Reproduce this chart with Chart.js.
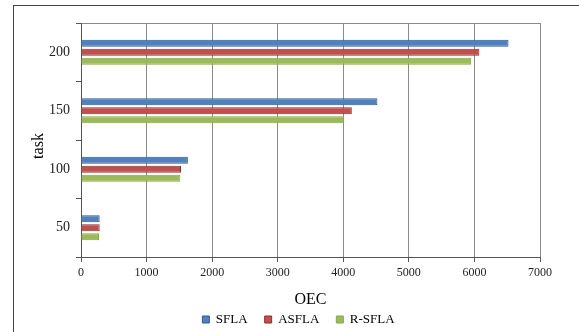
<!DOCTYPE html>
<html>
    <head>
        <title>OEC por task</title>
        <meta name="viewport" content="width=device-width, initial-scale=1.0">
        <style>
            body { margin: 0; background: #fff; }
            #wrap { position: relative; width: 579px; height: 332px; }
            #frame { position: absolute; left: 13px; top: 5px; right: -2px; bottom: -2px; border-left: 1px solid #444; border-top: 1px solid #444; }
        </style>
    </head>
    <body>
        <div id="wrap">
            <div id="frame"></div>
            <canvas id="myChart" width="579" height="332"></canvas>
        </div>

        <script src="https://cdn.jsdelivr.net/npm/chart.js@4/dist/chart.umd.min.js"></script>
        <script>
            // categories top to bottom
            const tasks = ['200', '150', '100', '50'];
            const sfla  = [6520, 4520, 1630, 285];
            const asfla = [6075, 4130, 1525, 285];
            const rsfla = [5950, 4015, 1515, 275];
            const xTicks = [0, 1000, 2000, 3000, 4000, 5000, 6000, 7000];

            const serif = "'Liberation Serif', 'Times New Roman', serif";

            // push the legend box right so its centre sits under the plot
            const legendShift = {
                id: 'legendShift',
                afterLayout(c) { if (c.legend) c.legend.left += 57; }
            };

            let ctx = document.getElementById('myChart').getContext('2d');
            let chart = new Chart(ctx, {
                type: 'bar',
                data: {
                    labels: tasks,
                    datasets: [
                        { label: 'SFLA',   data: sfla,  backgroundColor: '#4F81BD', borderColor: '#2F5A8F', borderWidth: 1 },
                        { label: 'ASFLA',  data: asfla, backgroundColor: '#C0504D', borderColor: '#8C2F2D', borderWidth: 1 },
                        { label: 'R-SFLA', data: rsfla, backgroundColor: '#9BBB59', borderColor: '#86A64A', borderWidth: 1 }
                    ]
                },
                plugins: [legendShift],
                options: {
                    indexAxis: 'y',
                    responsive: false,
                    animation: false,
                    datasets: { bar: { categoryPercentage: 0.46, barPercentage: 0.8 } },
                    layout: { padding: { top: 23, right: 39, left: 0, bottom: 0 } },
                    plugins: {
                        tooltip: { enabled: false },
                        legend: {
                            position: 'bottom',
                            maxHeight: 36,
                            labels: {
                                usePointStyle: true, pointStyle: 'rect', boxWidth: 7, boxHeight: 7,
                                padding: 17, color: '#000',
                                font: { family: serif, size: 13 }
                            }
                        }
                    },
                    scales: {
                        x: {
                            min: 0, max: 7000,
                            afterBuildTicks: (s) => { s.ticks = xTicks.map(v => ({ value: v })); },
                            afterFit: (s) => { s.height = 39; },
                            grid: { color: '#8a8a8a', tickColor: '#555', tickLength: 5 },
                            border: { color: '#555' },
                            ticks: { color: '#222', font: { family: serif, size: 12 }, padding: 4, callback: (v) => String(v) },
                            // title sits below the scale box, next to the legend
                            title: { display: true, text: 'OEC', color: '#000', font: { family: serif, size: 16 }, padding: { top: 0, bottom: -13 } }
                        },
                        y: {
                            afterFit: (s) => { s.width = 81; },
                            grid: {
                                offset: true,
                                color: (c) => c.index === 0 ? '#8a8a8a' : 'transparent',
                                tickColor: '#555', tickLength: 5
                            },
                            border: { color: '#555' },
                            ticks: { color: '#222', font: { family: serif, size: 14 }, padding: 6 },
                            title: { display: true, text: 'task   ', color: '#000', font: { family: serif, size: 16 }, padding: { top: 29, bottom: 0 } }
                        }
                    }
                }
            });
        </script>
    </body>
</html>
